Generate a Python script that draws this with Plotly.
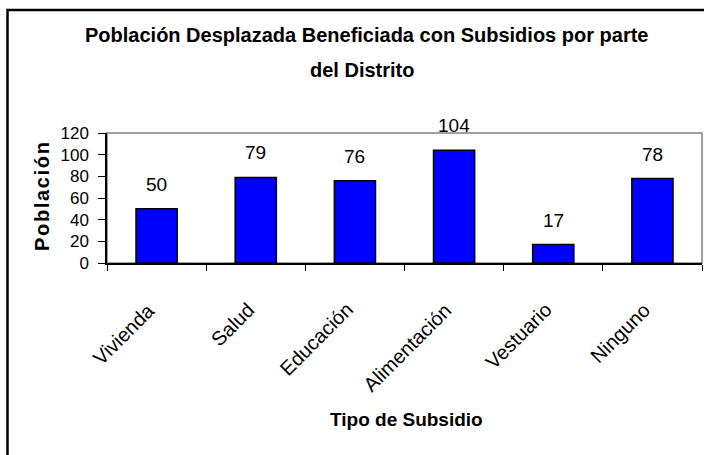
import plotly.graph_objects as go

# Subsidy types and number of displaced people who received each one
categorias = ["Vivienda", "Salud", "Educación", "Alimentación", "Vestuario", "Ninguno"]
poblacion = [50, 79, 76, 104, 17, 78]
y_ticks = [0, 20, 40, 60, 80, 100, 120]

W, H = 704, 455
ML, MR, MT, MB = 107, 2, 133, 192
FONT = "Liberation Sans, Arial, sans-serif"


def px_x(px):
    """Convert a horizontal pixel position to paper coordinates."""
    return (px - ML) / (W - ML - MR)


def px_y(py):
    """Convert a vertical pixel position (from top) to paper coordinates."""
    return (H - MB - py) / (H - MT - MB)


fig = go.Figure(
    go.Bar(
        x=categorias,
        y=poblacion,
        marker=dict(color="#0000FF", line=dict(color="#000000", width=1.5)),
        showlegend=False,
    )
)

# value labels above each bar
for cat, val in zip(categorias, poblacion):
    fig.add_annotation(
        x=cat, y=val, text=str(val), showarrow=False,
        yanchor="bottom", yshift=12,
        font=dict(family=FONT, size=19, color="#000000"),
    )

# slanted category labels, their upper-right end under each category centre
for cat in categorias:
    fig.add_annotation(
        x=cat, xref="x", yref="paper", y=px_y(296),
        text=cat, showarrow=False, textangle=-45,
        xanchor="right", yanchor="top", xshift=5,
        font=dict(family=FONT, size=20, color="#000000"),
    )

# two-line title
fig.add_annotation(
    xref="paper", yref="paper", x=px_x(366), y=px_y(35),
    text="<b>Población Desplazada Beneficiada con Subsidios por parte</b>",
    showarrow=False, xanchor="center", yanchor="middle",
    font=dict(family=FONT, size=20, color="#000000"),
)
fig.add_annotation(
    xref="paper", yref="paper", x=px_x(362), y=px_y(70),
    text="<b>del Distrito</b>",
    showarrow=False, xanchor="center", yanchor="middle",
    font=dict(family=FONT, size=20, color="#000000"),
)

# axis titles
fig.add_annotation(
    xref="paper", yref="paper", x=px_x(42), y=px_y(197),
    text="<b>P o b l a c i ó n</b>".replace(" ", "\u200a"),
    showarrow=False, textangle=-90, xanchor="center", yanchor="middle",
    font=dict(family=FONT, size=20, color="#000000"),
)
fig.add_annotation(
    xref="paper", yref="paper", x=px_x(406), y=px_y(419),
    text="<b>Tipo de Subsidio</b>",
    showarrow=False, xanchor="center", yanchor="middle",
    font=dict(family=FONT, size=19, color="#000000"),
)

# plot-area frame (grey) and outer chart frame (black)
fig.add_shape(
    type="rect", xref="paper", yref="paper", x0=0, y0=0, x1=1, y1=1,
    line=dict(color="#808080", width=1.5), layer="below",
)
fig.add_shape(
    type="path", xref="paper", yref="paper",
    path=f"M {px_x(7.5)},{px_y(460)} L {px_x(7.5)},{px_y(10)} L {px_x(710)},{px_y(10)}",
    line=dict(color="#000000", width=2.5),
)

fig.update_layout(
    width=W, height=H,
    margin=dict(l=ML, r=MR, t=MT, b=MB, autoexpand=False),
    paper_bgcolor="#FFFFFF", plot_bgcolor="#FFFFFF",
    bargap=0.585,
    font=dict(family=FONT, color="#000000"),
)
fig.update_xaxes(
    range=[-0.5, len(categorias) - 0.5],
    showline=True, linecolor="#000000", linewidth=1.5,
    ticks="outside", ticklen=6, tickcolor="#000000", tickwidth=1.2,
    tickson="boundaries", showticklabels=False,
    showgrid=False, zeroline=False,
)
fig.update_yaxes(
    range=[0, 120], tickvals=y_ticks,
    showline=True, linecolor="#000000", linewidth=1.5,
    ticks="outside", ticklen=7, tickcolor="#000000", tickwidth=1.2,
    ticklabelstandoff=6,
    tickfont=dict(family=FONT, size=17, color="#000000"),
    showgrid=False, zeroline=False,
)

fig.write_html("out.html")
